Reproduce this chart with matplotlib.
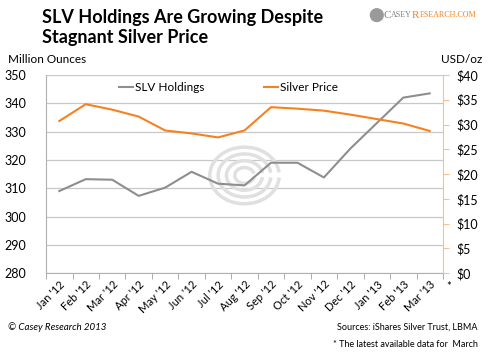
import matplotlib
matplotlib.use("Agg")
import matplotlib.pyplot as plt
import numpy as np
from matplotlib.patches import Arc, Ellipse

months = ["Jan '12", "Feb '12", "Mar '12", "Apr '12", "May '12", "Jun '12", "Jul '12",
          "Aug '12", "Sep '12", "Oct '12", "Nov '12", "Dec '12", "Jan '13", "Feb '13", "Mar '13"]
slv_holdings = [309, 313.2, 313, 307.3, 310.2, 315.8, 311.6, 311, 319, 319, 313.8, 324, 333, 342, 343.5]
silver_price = [30.7, 34.1, 33.0, 31.6, 28.8, 28.2, 27.4, 28.8, 33.5, 33.2, 32.8, 32.0, 31.1, 30.2, 28.7]
left_ticks = [280, 290, 300, 310, 320, 330, 340, 350]
right_ticks = [0, 5, 10, 15, 20, 25, 30, 35, 40]

GRAY = "#8E8E8E"
ORANGE = "#F5821F"
plt.rcParams['font.family'] = ['Lato', 'DejaVu Sans']

fig = plt.figure(figsize=(4.9, 3.52), dpi=100)
ax = fig.add_axes([0.094, 0.224, 0.81, 0.563])
ax2 = ax.twinx()

x = np.arange(len(months))
ax.plot(x, slv_holdings, color=GRAY, lw=1.5, label="SLV Holdings", zorder=3)
ax2.plot(x, silver_price, color=ORANGE, lw=1.5, label="Silver Price", zorder=3)

ax.set_xlim(-0.5, len(months) - 0.5)
ax.set_ylim(280, 350)
ax.set_yticks(left_ticks)
ax.set_yticklabels([str(t) for t in left_ticks], fontsize=9)
ax2.set_ylim(0, 40)
ax2.set_yticks(right_ticks)
ax2.set_yticklabels(["$%d" % t for t in right_ticks], fontsize=9)

ax.grid(axis='y', color="#C8C8C8", lw=0.9)
ax.set_axisbelow(True)
ax.set_xticks(x)
ax.set_xticklabels(months, rotation=45, ha='right', rotation_mode='anchor', fontsize=8)
ax.set_xticks(np.arange(-0.5, len(months), 1), minor=True)
ax.tick_params(axis='x', which='major', length=0, pad=4)
ax.tick_params(axis='x', which='minor', length=4, color="#A0A0A0")
ax.tick_params(axis='y', length=0, pad=14)
ax2.tick_params(axis='y', length=4, color="#F9C08F", pad=6)

for s in ['top', 'right']:
    ax.spines[s].set_visible(False)
for s in ['top', 'left', 'bottom']:
    ax2.spines[s].set_visible(False)
ax.spines['left'].set_color("#B0B0B0")
ax.spines['bottom'].set_color("#B0B0B0")
ax2.spines['right'].set_color("#F9C08F")

# watermark spiral
for r, a1, a2 in [(1.25, 40, 330), (0.95, 45, 325), (0.65, 50, 320), (0.35, 60, 310)]:
    ax.add_patch(Arc((7.0, 314.5), 2 * r * 1.05, 2 * r * 8.0, theta1=a1, theta2=a2,
                     color="#E0E0E0", lw=2.5, zorder=1))

h1, l1 = ax.get_legend_handles_labels()
h2, l2 = ax2.get_legend_handles_labels()
leg = ax.legend(h1 + h2, l1 + l2, loc='upper center', ncol=2, frameon=False,
                fontsize=8.5, handlelength=1.2, handletextpad=0.2, columnspacing=5,
                bbox_to_anchor=(0.46, 1.02))

fig.text(0.085, 0.975, "SLV Holdings Are Growing Despite\nStagnant Silver Price",
         fontsize=13, fontweight='bold', va='top', ha='left', linespacing=1.25)
fig.text(0.016, 0.83, "Million Ounces", fontsize=8.5, va='center')
fig.text(0.985, 0.83, "USD/oz", fontsize=8.5, va='center', ha='right')

# logo
fig.add_artist(Ellipse((0.769, 0.957), 0.026, 0.036, transform=fig.transFigure,
                       color="#9A9A9A"))
fig.text(0.783, 0.957, "C", fontsize=8, color="#7F7F7F", family='Liberation Serif', va='center', ha='left')
fig.text(0.798, 0.957, "ASEY", fontsize=5.8, color="#7F7F7F", family='Liberation Serif', va='center', ha='left')
fig.text(0.841, 0.957, "R", fontsize=8, color=ORANGE, family='Liberation Serif', va='center', ha='left')
fig.text(0.857, 0.957, "ESEARCH.COM", fontsize=5.8, color=ORANGE, family='Liberation Serif', va='center', ha='left')

fig.text(0.91, 0.185, "*", fontsize=8, va='center')
fig.text(0.016, 0.07, "© Casey Research 2013", fontsize=7, style='italic', va='center')
fig.text(0.975, 0.07, "Sources: iShares Silver Trust, LBMA", fontsize=6.5, va='center', ha='right')
fig.text(0.975, 0.022, "* The latest available data for  March", fontsize=6.5, va='center', ha='right')

fig.savefig("out.png", dpi=100)
